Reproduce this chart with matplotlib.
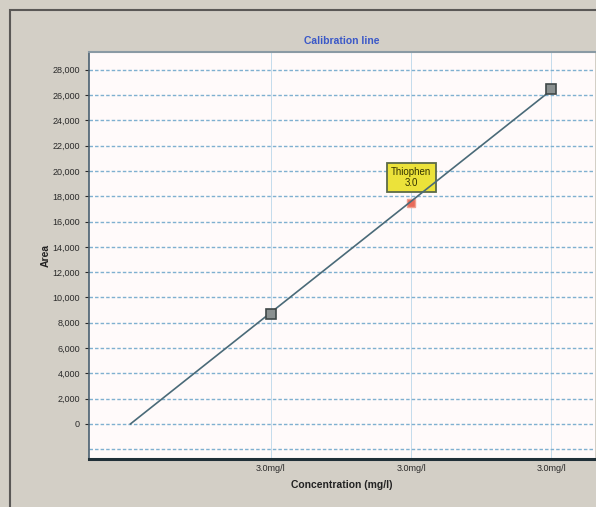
import matplotlib
matplotlib.use('Agg')
import matplotlib.pyplot as plt
import numpy as np
from matplotlib.patches import Rectangle

# calibration data
conc_pos = [1, 2, 3]
conc_labels = ['3.0mg/l', '3.0mg/l', '3.0mg/l']
areas = [8700, 17500, 26500]
highlight = 1
tooltip_text = 'Thiophen\n3.0'
y_ticks = list(range(0, 28001, 2000))

plt.rcParams['font.family'] = ['Liberation Sans', 'DejaVu Sans']

fig = plt.figure(figsize=(5.96, 5.07), dpi=100)
fig.patch.set_facecolor('#d3cfc6')

# outer window frame
fig.patches.append(Rectangle((10 / 596, -0.1), 1.2, 1 - 10 / 507 + 0.1,
                             transform=fig.transFigure, fill=False,
                             edgecolor='#5a5856', linewidth=1.5))

ax = fig.add_axes([89 / 596, 1 - 459 / 507, (595 - 89) / 596, (459 - 52) / 507])
ax.set_facecolor('#fffafa')

# line through origin (least squares)
x = np.array(conc_pos, dtype=float)
y = np.array(areas, dtype=float)
slope = (x * y).sum() / (x * x).sum()
xs = np.array([0, x.max()])
ax.plot(xs, slope * xs, color='#4a6a78', linewidth=1.2, zorder=6)

for i, (xi, yi) in enumerate(zip(conc_pos, areas)):
    if i == highlight:
        ax.plot(xi, yi, marker='s', markersize=6, color='#e86a5a',
                markeredgecolor='#f0a090', zorder=4)
    else:
        ax.plot(xi, yi, marker='s', markersize=7, color='#8a9090',
                markeredgecolor='#404848', markeredgewidth=1.2, zorder=7)

ax.annotate(tooltip_text, (conc_pos[highlight], areas[highlight]),
            xytext=(0, 18), textcoords='offset points', ha='center', va='center',
            fontsize=7, linespacing=1.1, color='#333300',
            bbox=dict(boxstyle='square,pad=0.45', facecolor='#ece23a',
                      edgecolor='#5c6a48', linewidth=1.3), zorder=5)

ax.set_xlim(-0.295, 3.31)
ax.set_ylim(-2770, 29400)
ax.set_xticks(conc_pos)
ax.set_xticklabels(conc_labels)
ax.set_yticks(y_ticks)
ax.set_yticklabels(['{:,}'.format(v) for v in y_ticks])
ax.set_yticks([-2000], minor=True)
ax.tick_params(axis='both', labelsize=6.5, colors='#2a2a2a', length=3)
ax.tick_params(axis='y', which='minor', length=0)
ax.tick_params(axis='x', length=0, pad=3.5)

ax.grid(axis='y', which='both', color='#7fb0d0', linestyle=(0, (2.5, 1.5)), linewidth=1.0)
ax.grid(axis='x', color='#c4dcec', linestyle='-', linewidth=0.7)
ax.set_axisbelow(True)

ax.spines['right'].set_visible(False)
ax.spines['top'].set_color('#8a9aa4')
ax.spines['top'].set_linewidth(1.5)
ax.spines['left'].set_color('#4a6070')
ax.spines['left'].set_linewidth(1.2)
ax.spines['bottom'].set_color('#203038')
ax.spines['bottom'].set_linewidth(2.2)

ax.set_title('Calibration line', fontsize=7.5, color='#3a58c8', fontweight='bold', pad=5.5)
ax.set_xlabel('Concentration (mg/l)', fontsize=7.5, fontweight='bold', color='#222222', labelpad=5)
ax.set_ylabel('Area', fontsize=7.5, fontweight='bold', color='#222222', labelpad=1)

plt.savefig('out.png', dpi=100, facecolor=fig.get_facecolor())
